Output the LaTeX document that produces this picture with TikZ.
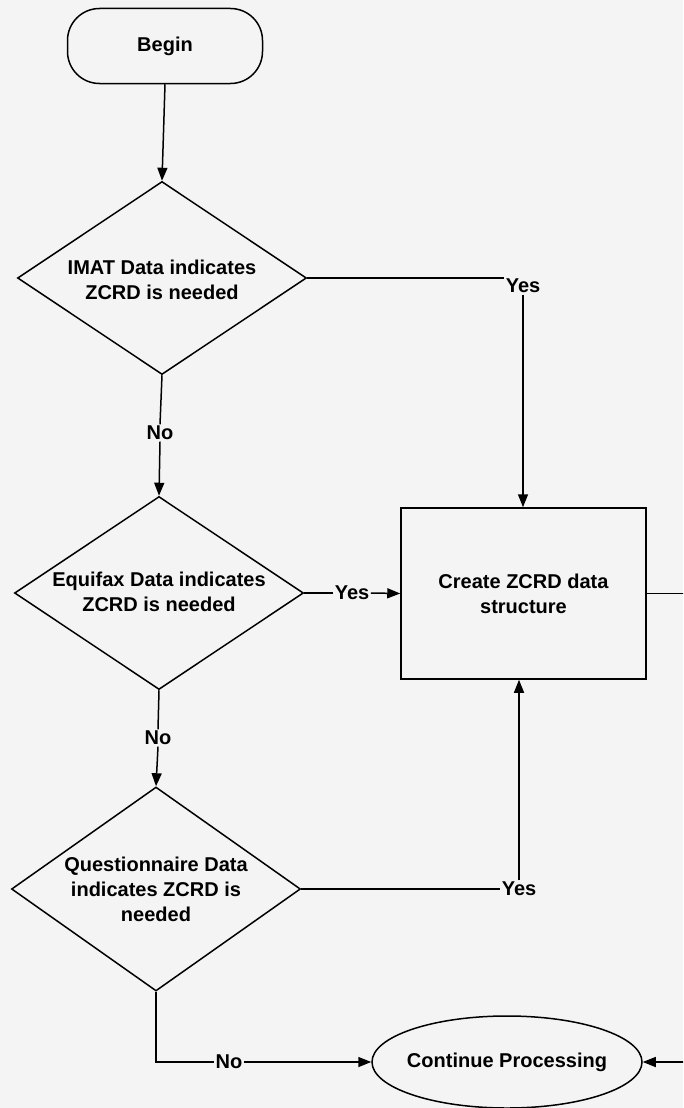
\documentclass[tikz,border=0pt]{standalone}
\usepackage{fontspec}
\setmainfont{Liberation Sans}
\usetikzlibrary{shapes.geometric,arrows.meta}
\definecolor{bg}{RGB}{244,244,244}
\begin{document}
\begin{tikzpicture}[x=1pt,y=-1pt,
  every node/.style={font=\fontsize{20}{25}\selectfont\bfseries, align=center},
  ln/.style={line width=1.5pt, black},
  arr/.style={ln, -{Triangle[length=13pt,width=10pt]}},
  shp/.style={draw, line width=1.5pt, inner sep=0pt},
  decbox/.style={shp, diamond, minimum width=289pt, minimum height=193pt},
  lbl/.style={inner sep=1.5pt},
]
\fill[bg] (0,0) rectangle (683,1108);
\useasboundingbox (0,0) rectangle (683,1108);
\clip (0,0) rectangle (683,1108);

% shapes
\node[shp, rounded corners=32pt, minimum width=195pt, minimum height=75pt] (begin) at (165,46) {Begin};
\node[decbox] (d1) at (162,278) {};
\node (t1) at (162,280) {IMAT Data indicates\\ZCRD is needed};
\node[decbox] (d2) at (159,593) {};
\node (t2) at (159,592) {Equifax Data indicates\\ZCRD is needed};
\node[decbox, minimum height=204pt] (d3) at (156,889) {};
\node (t3) at (156,889) {Questionnaire Data\\indicates ZCRD is\\needed};
\node[shp, rectangle, minimum width=245pt, minimum height=171pt] (box) at (523.5,593.5) {Create ZCRD data\\structure};
\node[shp, ellipse, minimum width=270pt, minimum height=92pt] (ell) at (507,1062) {};
\node (te) at (507,1062) {Continue Processing};

% labels
\node[lbl] (n1) at (160,433) {No};
\node[lbl] (n2) at (158,738) {No};
\node[lbl] (n3) at (229,1062) {No};
\node[lbl] (y1) at (523,286) {Yes};
\node[lbl] (y2) at (352,593) {Yes};
\node[lbl] (y3) at (519,889) {Yes};
\coordinate (rr) at (700,595);

% connectors
\draw[arr] (begin.south) -- (d1.north);
\draw[ln] (d1.south) -- (n1.north);
\draw[arr] (n1.south) -- (d2.north);
\draw[ln] (d2.south) -- (n2.north);
\draw[arr] (n2.south) -- (d3.north);
\draw[ln] (d3.south) |- (n3.west);
\draw[arr] (n3.east) -- (ell.west);

\draw[ln] (d1.east) -- (d1.east -| y1.west);
\draw[arr] (y1.south) -- (y1.south |- box.north);
\draw[ln] (d2.east) -- (y2.west);
\draw[arr] (y2.east) -- (box.west);
\draw[ln] (d3.east) -- (y3.west);
\draw[arr] (y3.north) -- (y3.north |- box.south);

\draw[arr] (box.east) -- (box.east -| rr) |- (ell.east);
\end{tikzpicture}
\end{document}
